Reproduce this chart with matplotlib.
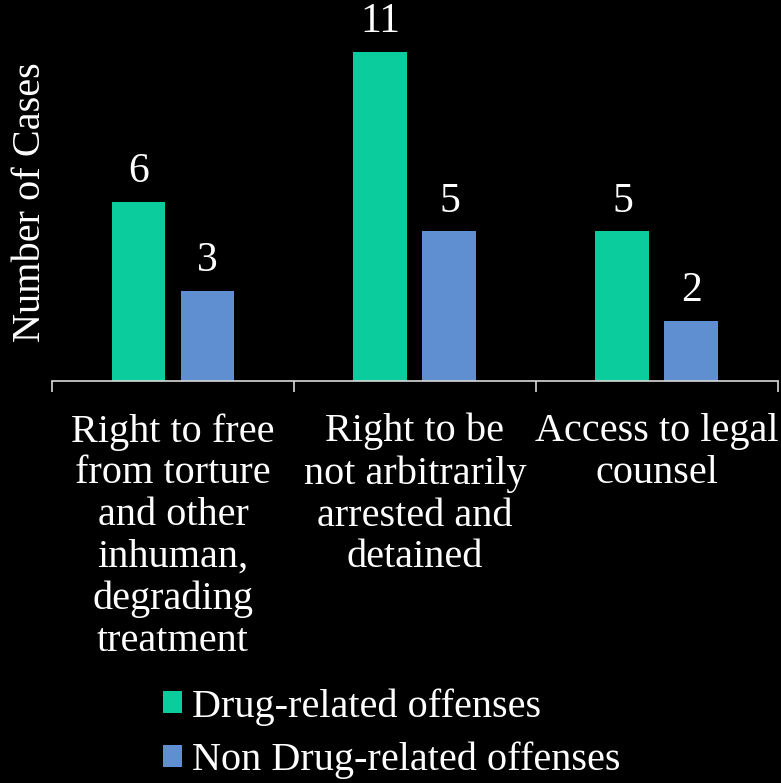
import numpy as np
import matplotlib
matplotlib.use('Agg')
import matplotlib.pyplot as plt
from matplotlib.patches import Patch

categories = ['Right to free\nfrom torture\nand other\ninhuman,\ndegrading\ntreatment',
              'Right to be\nnot arbitrarily\narrested and\ndetained',
              'Access to legal\ncounsel']
drug = [6, 11, 5]
non_drug = [3, 5, 2]
series_names = ['Drug-related offenses', 'Non Drug-related offenses']

green = '#0acc9c'
blue = '#5f8fd0'

plt.rcParams['font.family'] = ['Liberation Serif', 'DejaVu Serif']

fig = plt.figure(figsize=(7.81, 7.83), dpi=100, facecolor='black')
ax = fig.add_axes([0.0666, 0.5134, 0.9294, 0.4585], facecolor='black')

x = np.arange(len(categories))
width = 0.223
off = 0.1426

b1 = ax.bar(x - off, drug, width, color=green)
b2 = ax.bar(x + off, non_drug, width, color=blue)

# value labels above each bar
for bars, vals in ((b1, drug), (b2, non_drug)):
    for rect, v in zip(bars, vals):
        ax.text(rect.get_x() + rect.get_width() / 2, v + 0.36, '%d' % v,
                ha='center', va='bottom', color='white', fontsize=30)

ax.set_xlim(-0.5, len(categories) - 0.5)
ax.set_ylim(0, 12)

for s in ('top', 'right', 'left'):
    ax.spines[s].set_visible(False)
ax.spines['bottom'].set_color('#d9d9d9')
ax.spines['bottom'].set_linewidth(1.2)

ax.set_yticks([])
ax.set_xticks(x)
ax.set_xticklabels(categories, color='white', fontsize=29, linespacing=1.17)
ax.tick_params(axis='x', which='major', length=0, pad=23)
ax.set_xticks(np.arange(-0.5, len(categories)), minor=True)
ax.tick_params(axis='x', which='minor', length=8, width=1.2, color='#d9d9d9', direction='out')

fig.text(0.039, 0.742, 'Number of Cases', rotation=90, ha='center', va='center',
         color='white', fontsize=29)

handles = [Patch(facecolor=green), Patch(facecolor=blue)]
fig.legend(handles, series_names, loc='upper left', bbox_to_anchor=(0.1835, 0.147),
           frameon=False, fontsize=29, labelcolor='white', handlelength=0.45,
           handleheight=0.45, handletextpad=0.25, labelspacing=0.4, borderpad=0)

fig.savefig('out.png', dpi=100, facecolor='black')
